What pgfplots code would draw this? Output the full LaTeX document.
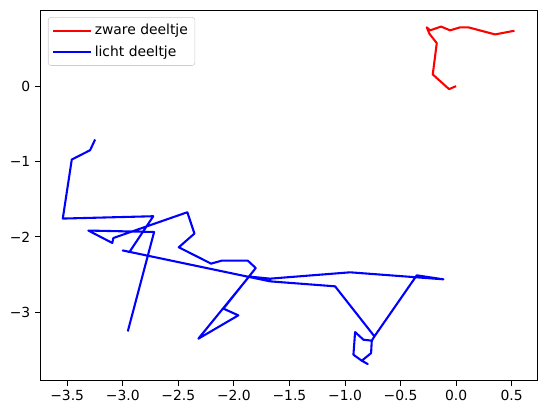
\documentclass[border=0pt]{standalone}
\usepackage{fontspec}
\setmainfont{DejaVu Sans}
\usepackage{pgfplots}
\pgfplotsset{compat=1.18}

% heavy particle path
\newcommand{\zwaar}{
(0,0) (-0.063,-0.04) (-0.21,0.155) (-0.174,0.57) (-0.24,0.695) (-0.264,0.78)
(-0.234,0.74) (-0.135,0.79) (-0.054,0.74) (0.036,0.78) (0.11,0.78)
(0.351,0.686) (0.525,0.735)}

% light particle path
\newcommand{\licht}{
(-3.249,-0.708) (-3.294,-0.85) (-3.459,-0.974) (-3.54,-1.757) (-2.725,-1.726)
(-2.94,-2.2) (-3.0,-2.18) (-1.674,-2.59) (-1.674,-2.554) (-1.674,-2.59)
(-1.089,-2.656) (-0.735,-3.32) (-0.759,-3.377) (-0.834,-3.364) (-0.909,-3.263)
(-0.924,-3.563) (-0.849,-3.643) (-0.795,-3.687) (-0.849,-3.643) (-0.765,-3.542)
(-0.759,-3.377) (-0.735,-3.32) (-0.354,-2.51) (-0.114,-2.563) (-0.954,-2.47)
(-1.674,-2.554) (-1.863,-2.526) (-2.32,-3.351) (-1.96,-3.041) (-2.094,-2.952)
(-1.803,-2.413) (-1.875,-2.315) (-2.109,-2.315) (-2.205,-2.355) (-2.496,-2.138)
(-2.355,-1.956) (-2.419,-1.673) (-3.085,-2.015) (-3.094,-2.081) (-3.31,-1.916)
(-2.718,-1.935) (-2.955,-3.254)}

\begin{document}
\begin{tikzpicture}
\begin{axis}[
  scale only axis,
  width=357.8pt, height=267pt,
  xmin=-3.745, xmax=0.728, ymin=-3.91, ymax=1.01,
  xtick={-3.5,-3.0,-2.5,-2.0,-1.5,-1.0,-0.5,0.0,0.5},
  xticklabels={−3.5,−3.0,−2.5,−2.0,−1.5,−1.0,−0.5,0.0,0.5},
  ytick={-3,-2,-1,0},
  yticklabels={−3,−2,−1,0},
  tick align=outside, tick pos=left,
  major tick length=3.5pt,
  tick style={black, line width=0.6pt},
  axis line style={line width=0.6pt},
  ticklabel style={font=\fontsize{10}{12}\selectfont},
  legend cell align=left,
  legend style={at={(0.016,0.981)}, anchor=north west,
    draw=black!20, rounded corners=2pt, fill=white, fill opacity=0.8,
    text opacity=1, font=\fontsize{10}{12}\selectfont,
    inner xsep=3pt, inner ysep=3pt, row sep=2.5pt},
  legend image code/.code={\draw[#1] (0pt,0pt) -- (21pt,0pt);
    \path (0pt,0pt) -- (27pt,0pt);},
]
\addplot[red, line width=1.5pt, line join=round] coordinates {\zwaar};
\addplot[blue, line width=1.5pt, line join=round] coordinates {\licht};
\legend{zware deeltje, licht deeltje}
\end{axis}
\useasboundingbox ([xshift=-28.8pt,yshift=-23pt]current axis.south west)
  rectangle ([xshift=6.5pt,yshift=7.2pt]current axis.north east);
\end{tikzpicture}
\end{document}
